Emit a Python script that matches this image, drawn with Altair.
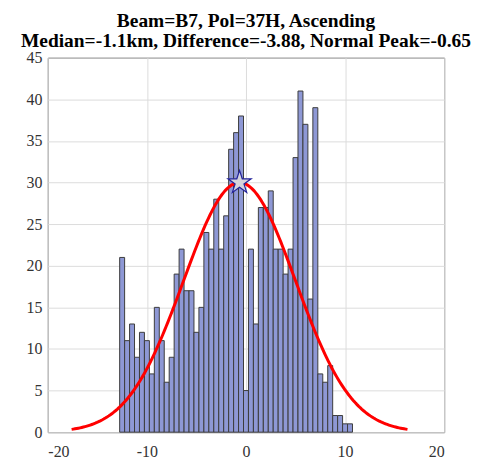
import altair as alt
import numpy as np
import pandas as pd

# Histogram bin centers (width 0.5) and counts
bin_centers = [-12.5, -12.0, -11.5, -11.0, -10.5, -10.0, -9.5, -9.0, -8.5, -8.0,
               -7.5, -7.0, -6.5, -6.0, -5.5, -5.0, -4.5, -4.0, -3.5, -3.0,
               -2.5, -2.0, -1.5, -1.0, -0.5, 0.0, 0.5, 1.0, 1.5, 2.0,
               2.5, 3.0, 3.5, 4.0, 4.5, 5.0, 5.5, 6.0, 6.5, 7.0,
               7.5, 8.0, 8.5, 9.0, 9.5, 10.0, 10.5]
counts = [21, 11, 13, 9, 12, 11, 7, 15, 11, 6,
          9, 19, 22, 17, 17, 12, 15, 24, 22, 28,
          22, 26, 34, 36, 38, 5, 22, 13, 27, 27,
          29, 22, 22, 19, 22, 33, 41, 37, 16, 39,
          7, 6, 8, 2, 2, 1, 1]
bin_width = 0.5

# Fitted normal curve parameters
peak_x = -0.65
peak_y = 30.0
sigma = 5.65

title_lines = ["Beam=B7, Pol=37H, Ascending",
               "Median=-1.1km, Difference=-3.88, Normal Peak=-0.65"]
x_ticks = [-20, -10, 0, 10, 20]
y_ticks = [0, 5, 10, 15, 20, 25, 30, 35, 40, 45]

# five-pointed star symbol (unit shape)
STAR = ("M0,-1L0.2245,-0.309L0.9511,-0.309L0.3633,0.118L0.5878,0.809L0,0.382"
        "L-0.5878,0.809L-0.3633,0.118L-0.9511,-0.309L-0.2245,-0.309Z")

hist = pd.DataFrame({
    "center": bin_centers,
    "count": counts,
})
hist["left"] = hist["center"] - bin_width / 2
hist["right"] = hist["center"] + bin_width / 2

xs = np.linspace(peak_x - 3 * sigma, peak_x + 3 * sigma, 200)
curve = pd.DataFrame({"x": xs, "y": peak_y * np.exp(-((xs - peak_x) ** 2) / (2 * sigma ** 2))})
star = pd.DataFrame({"x": [peak_x], "y": [peak_y]})

xscale = alt.Scale(domain=[-20, 20], nice=False)
yscale = alt.Scale(domain=[0, 45], nice=False)
xaxis = alt.Axis(values=x_ticks, title=None, ticks=False, labelPadding=11, grid=True,
                 labelExpr="'' + datum.value")
yaxis = alt.Axis(values=y_ticks, title=None, ticks=False, labelPadding=6, grid=True,
                 labelExpr="'' + datum.value")

bars = alt.Chart(hist).mark_rect(
    fill="#8E98D5", stroke="#3C3C3C", strokeWidth=1, opacity=1
).encode(
    x=alt.X("left:Q", scale=xscale, axis=xaxis),
    x2="right:Q",
    y=alt.Y("count:Q", scale=yscale, axis=yaxis),
    y2=alt.datum(0),
)

line = alt.Chart(curve).mark_line(color="#FF0000", strokeWidth=3).encode(
    x=alt.X("x:Q", scale=xscale),
    y=alt.Y("y:Q", scale=yscale),
)

pt = alt.Chart(star).mark_point(
    shape=STAR, size=600, filled=True, fill="#D4D4DC", stroke="#22229A",
    strokeWidth=1.2, opacity=1
).encode(
    x=alt.X("x:Q", scale=xscale),
    y=alt.Y("y:Q", scale=yscale),
)

chart = alt.layer(bars, line, pt).properties(
    width=398,
    height=376,
    title=alt.TitleParams(
        text=title_lines, font="Liberation Serif", fontSize=19.5, fontWeight="bold",
        color="#000000", anchor="middle", offset=0, dy=2, lineHeight=20,
    ),
    background="white",
    autosize=alt.AutoSizeParams(type="none"),
    padding={"left": 40, "top": 49, "right": 32, "bottom": 30},
).configure_view(
    stroke="#262626", strokeWidth=1
).configure_axis(
    labelFont="Liberation Serif", labelFontSize=16, labelColor="#333333",
    gridColor="#DCDCDC", gridWidth=1, domain=False,
)

chart.save("out.html", embed_options={"renderer": "svg", "actions": False})
